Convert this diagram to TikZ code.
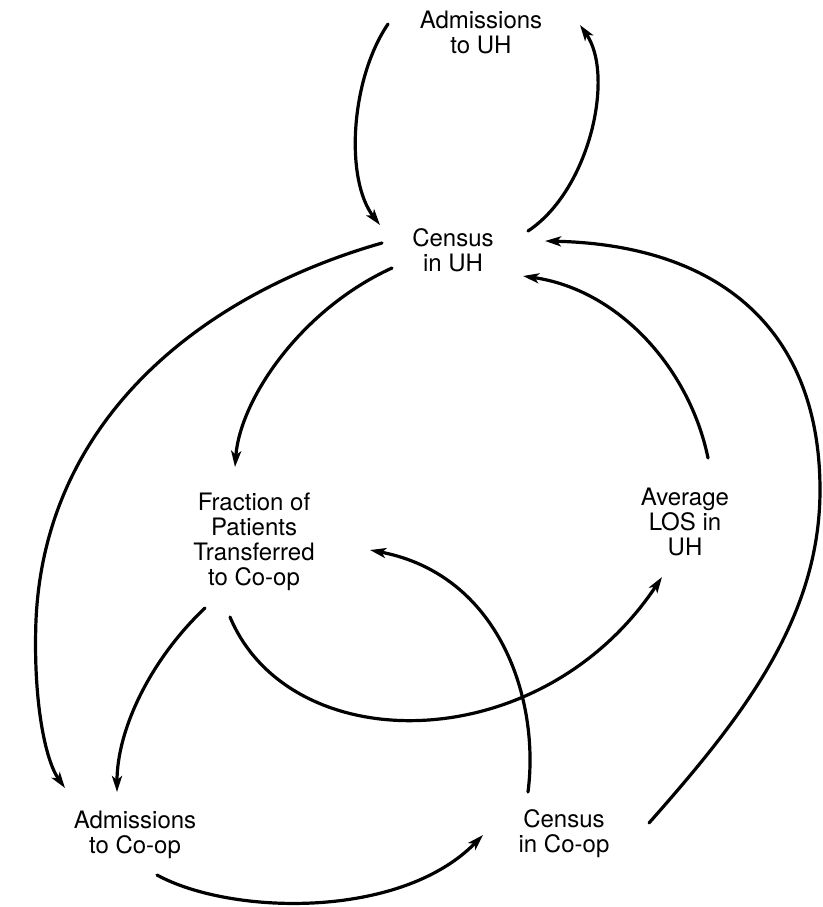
\documentclass[tikz,border=0pt]{standalone}
\usepackage{fontspec}
\setmainfont{TeX Gyre Heros}
\usetikzlibrary{arrows.meta,calc}
\begin{document}
\begin{tikzpicture}[x=0.5pt,y=-0.5pt,
  var/.style={align=center,font=\fontsize{12}{12.5}\selectfont,inner sep=0pt},
  link/.style={line width=1.6pt,line cap=round,
    -{Stealth[length=8pt,width=5pt,inset=2pt]}}]
\useasboundingbox (0,0) rectangle (823,907);

% variables
\node[var] (aUH) at (481,32)  {Admissions\\to UH};
\node[var] (cUH) at (453,250) {Census\\in UH};
\node[var] (frac) at (254,542) {Fraction of\\Patients\\Transferred\\to Co-op};
\node[var] (avg) at (685,522) {Average\\LOS in\\UH};
\node[var] (aCO) at (135,835) {Admissions\\to Co-op};
\node[var] (cCO) at (564,834) {Census\\in Co-op};

% admissions and census of UH
\draw[link] ($(aUH)+(-93,-8)$) .. controls (350,80) and (345,180) .. ($(cUH)+(-73,-25)$);
\draw[link] ($(cUH)+(75,-19)$) .. controls (590,190) and (615,75) .. ($(aUH)+(99,-7)$);

% census in UH feeding the co-op side
\draw[link] ($(cUH)+(-71,-7)$) .. controls (200,295) and (45,420) .. (36,620)
  .. controls (33,700) and (45,760) .. ($(aCO)+(-70,-47)$);
\draw[link] ($(cUH)+(-61,18)$) .. controls (300,310) and (240,400) .. ($(frac)+(-19,-75)$);

% fraction transferred
\draw[link] ($(frac)+(-49,66)$) .. controls (150,660) and (117,730) .. ($(aCO)+(-18,-43)$);
\draw[link] ($(frac)+(-24,75)$) .. controls (290,760) and (540,760) .. ($(avg)+(-23,55)$);

% census in co-op
\draw[link] ($(cCO)+(-36,-42)$) .. controls (540,700) and (500,575) .. ($(frac)+(116,8)$);
\draw[link] ($(aCO)+(22,40)$) .. controls (230,915) and (400,920) .. ($(cCO)+(-81,1)$);
\draw[link] ($(cCO)+(85,-11)$) .. controls (740,720) and (820,620) .. (820,490)
  .. controls (820,330) and (720,245) .. ($(cUH)+(92,-9)$);

% average length of stay
\draw[link] ($(avg)+(23,-64)$) .. controls (690,370) and (620,290) .. ($(cUH)+(70,26)$);
\end{tikzpicture}
\end{document}
